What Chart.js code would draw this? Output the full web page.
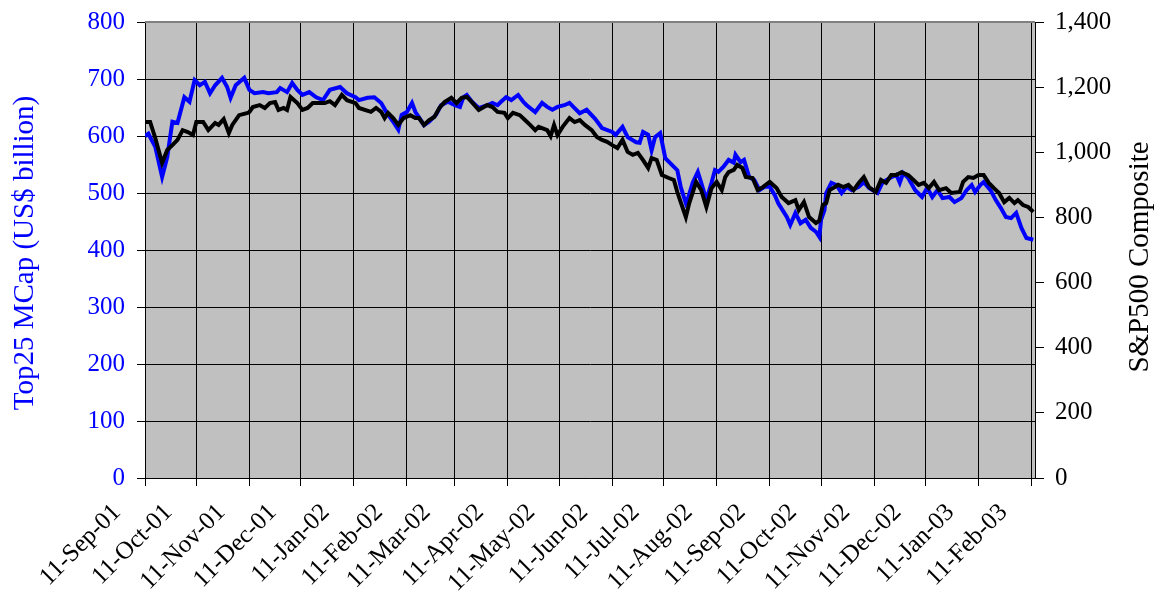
<!DOCTYPE html>
<html>
<head>
<meta charset="utf-8">
<script src="https://cdn.jsdelivr.net/npm/chart.js@4.4.1/dist/chart.umd.min.js"></script>
<style>
  html, body { margin: 0; padding: 0; background: #fff; }
  #wrap { width: 1165px; height: 600px; }
</style>
</head>
<body>
<div id="wrap"><canvas id="chart" width="1165" height="600"></canvas></div>
<script>
// Month tick labels (x axis is calendar days since 11-Sep-01)
const tickLabels = ['11-Sep-01', '11-Oct-01', '11-Nov-01', '11-Dec-01', '11-Jan-02', '11-Feb-02',
  '11-Mar-02', '11-Apr-02', '11-May-02', '11-Jun-02', '11-Jul-02', '11-Aug-02', '11-Sep-02',
  '11-Oct-02', '11-Nov-02', '11-Dec-02', '11-Jan-03', '11-Feb-03'];

// Top25 market cap (US$ billion), left axis
const mcapDays = [0, 2, 6, 10, 13, 16, 19, 23, 26, 29, 32, 35, 38, 41, 45, 48, 50, 53, 58, 61,
  64, 69, 72, 77, 79, 83, 86, 89, 92, 96, 100, 104, 108, 114, 118, 123, 125, 130, 134, 138,
  141, 145, 148, 150, 153, 156, 158, 160, 163, 166, 170, 173, 177, 181, 184, 186, 188, 191, 195, 200,
  203, 206, 208, 211, 214, 218, 221, 223, 228, 232, 235, 238, 241, 245, 248, 251, 254, 258, 263, 267,
  273, 275, 279, 282, 287, 289, 291, 294, 296, 298, 301, 304, 308, 311, 313, 316, 317, 320, 323, 325,
  328, 331, 333, 335, 338, 341, 344, 345, 348, 350, 353, 356, 359, 362, 365, 368, 370, 375, 377, 380,
  383, 386, 389, 392, 394, 395, 397, 398, 401, 404, 407, 410, 413, 417, 420, 423, 428, 431, 435, 439,
  441, 443, 446, 450, 454, 457, 460, 463, 466, 470, 473, 477, 480, 483, 485, 488, 490, 494, 497, 500,
  503, 506, 509, 512, 515, 519];
const mcapValues = [600, 604, 581, 528, 563, 625, 623, 668, 660, 698, 689, 695, 675, 689, 702, 686, 667, 689, 702, 681,
  675, 677, 675, 677, 684, 677, 693, 681, 672, 677, 668, 663, 681, 686, 675, 668, 663, 667, 668, 658,
  642, 625, 611, 637, 642, 658, 642, 633, 619, 625, 637, 654, 660, 654, 651, 668, 672, 660, 649, 654,
  658, 654, 660, 668, 663, 672, 660, 654, 642, 658, 651, 646, 651, 654, 658, 649, 640, 646, 630, 614,
  607, 602, 616, 598, 589, 588, 607, 602, 575, 598, 605, 561, 549, 540, 511, 482, 488, 518, 537, 518,
  488, 518, 540, 537, 546, 558, 553, 567, 554, 558, 528, 523, 505, 511, 511, 496, 482, 458, 444, 465,
  447, 453, 439, 432, 423, 453, 470, 500, 518, 514, 500, 511, 505, 511, 519, 509, 500, 519, 526, 532,
  518, 535, 526, 505, 493, 509, 493, 505, 491, 493, 484, 491, 505, 514, 502, 514, 519, 505, 488, 474,
  458, 456, 465, 439, 421, 418];

// S&P500 Composite, right axis
const spxDays = [0, 3, 6, 10, 13, 16, 19, 22, 25, 28, 30, 34, 37, 41, 43, 46, 49, 51, 55, 60,
  61, 63, 67, 70, 73, 76, 78, 81, 83, 85, 89, 92, 95, 98, 102, 105, 108, 111, 115, 118,
  123, 125, 132, 135, 138, 140, 142, 145, 148, 151, 155, 158, 160, 163, 166, 169, 172, 175, 179, 182,
  185, 188, 191, 195, 200, 203, 206, 210, 212, 215, 219, 222, 225, 228, 230, 235, 237, 239, 241, 244,
  248, 251, 254, 257, 261, 264, 267, 270, 273, 276, 279, 282, 285, 288, 291, 294, 296, 299, 302, 306,
  309, 311, 313, 316, 318, 322, 325, 328, 331, 334, 337, 339, 341, 344, 346, 349, 351, 355, 358, 361,
  365, 369, 372, 376, 380, 382, 385, 388, 392, 394, 396, 398, 400, 403, 405, 408, 411, 414, 417, 420,
  423, 427, 430, 433, 436, 439, 442, 446, 449, 452, 455, 458, 461, 464, 468, 471, 476, 478, 481, 484,
  487, 490, 493, 496, 499, 502, 505, 508, 510, 513, 516, 519];
const spxValues = [1093, 1093, 1044, 967, 1007, 1022, 1038, 1068, 1062, 1053, 1093, 1093, 1068, 1090, 1084, 1102, 1059, 1084, 1114, 1121,
  1124, 1139, 1145, 1136, 1151, 1154, 1130, 1136, 1130, 1170, 1151, 1130, 1136, 1151, 1151, 1151, 1157, 1145, 1176, 1160,
  1151, 1136, 1124, 1136, 1124, 1105, 1121, 1105, 1084, 1105, 1114, 1105, 1105, 1084, 1099, 1108, 1136, 1154, 1167, 1151,
  1167, 1170, 1154, 1130, 1145, 1139, 1124, 1121, 1105, 1121, 1114, 1099, 1084, 1068, 1078, 1068, 1050, 1084, 1053, 1078,
  1105, 1093, 1099, 1084, 1068, 1047, 1038, 1032, 1022, 1013, 1038, 1001, 992, 998, 976, 952, 982, 976, 930, 921,
  915, 878, 847, 801, 844, 909, 884, 832, 890, 909, 884, 924, 939, 946, 961, 952, 924, 921, 884, 893,
  909, 890, 863, 844, 853, 823, 847, 801, 783, 790, 838, 844, 884, 893, 900, 893, 900, 884, 906, 924,
  893, 878, 915, 906, 930, 930, 939, 930, 915, 900, 906, 890, 909, 884, 890, 875, 878, 909, 924, 921,
  930, 930, 906, 890, 875, 847, 860, 844, 853, 838, 832, 817];

const FONT = "'Liberation Serif', 'Times New Roman', serif";
const DAY = 86400000;
const start = Date.UTC(2001, 8, 11);
const monthIdx = { Jan: 0, Feb: 1, Mar: 2, Apr: 3, May: 4, Jun: 5, Jul: 6, Aug: 7, Sep: 8, Oct: 9, Nov: 10, Dec: 11 };

function labelToDay(lbl) {
  const [d, m, y] = lbl.split('-');
  return Math.round((Date.UTC(2000 + Number(y), monthIdx[m], Number(d)) - start) / DAY);
}
const tickDays = tickLabels.map(labelToDay);
const labelByDay = {};
tickDays.forEach((d, i) => { labelByDay[d] = tickLabels[i]; });

// Grey plot background, top frame line, and axis titles
const framePlugin = {
  id: 'frame',
  beforeDraw(chart) {
    const { ctx, chartArea: a } = chart;
    ctx.save();
    ctx.fillStyle = '#c0c0c0';
    ctx.fillRect(a.left, a.top, a.right - a.left, a.bottom - a.top);
    ctx.restore();
  },
  afterDraw(chart) {
    const { ctx, chartArea: a } = chart;
    ctx.save();
    ctx.strokeStyle = '#808080';
    ctx.lineWidth = 2;
    ctx.beginPath();
    ctx.moveTo(a.left, a.top);
    ctx.lineTo(a.right, a.top);
    ctx.stroke();

    ctx.font = '29px ' + FONT;
    ctx.textAlign = 'center';
    ctx.textBaseline = 'middle';
    ctx.fillStyle = '#0000ff';
    ctx.translate(25, 253);
    ctx.rotate(-Math.PI / 2);
    ctx.fillText('Top25 MCap (US$ billion)', 0, 0);
    ctx.restore();

    ctx.save();
    ctx.font = '29px ' + FONT;
    ctx.textAlign = 'center';
    ctx.textBaseline = 'middle';
    ctx.fillStyle = '#000';
    ctx.translate(1140, 257);
    ctx.rotate(-Math.PI / 2);
    ctx.fillText('S&P500 Composite', 0, 0);
    ctx.restore();
  }
};

const fitY = w => s => { s.width = w; s.paddingTop = 0; s.paddingBottom = 0; };

new Chart(document.getElementById('chart'), {
  type: 'line',
  data: {
    datasets: [
      {
        label: 'S&P500 Composite',
        data: spxDays.map((d, i) => ({ x: d, y: spxValues[i] })),
        yAxisID: 'y2',
        borderColor: '#000000',
        borderWidth: 4,
        pointRadius: 0,
        tension: 0,
        order: 0
      },
      {
        label: 'Top25 MCap',
        data: mcapDays.map((d, i) => ({ x: d, y: mcapValues[i] })),
        yAxisID: 'y',
        borderColor: '#0000ff',
        borderWidth: 4,
        pointRadius: 0,
        tension: 0,
        order: 1
      }
    ]
  },
  options: {
    responsive: false,
    animation: false,
    layout: { padding: { top: 22, left: 0, right: 0, bottom: 0 } },
    plugins: {
      legend: { display: false },
      tooltip: { enabled: false }
    },
    scales: {
      x: {
        type: 'linear',
        min: 0,
        max: 520,
        afterBuildTicks: axis => { axis.ticks = tickDays.map(v => ({ value: v })); },
        afterFit: s => { s.height = 122; },
        grid: { color: '#000', lineWidth: 1, tickLength: 8 },
        border: { color: '#000', width: 1 },
        ticks: {
          autoSkip: false,
          minRotation: 45,
          maxRotation: 45,
          labelOffset: -28,
          padding: 12,
          color: '#000',
          font: { family: FONT, size: 25 },
          callback: v => labelByDay[v] || ''
        }
      },
      y: {
        position: 'left',
        min: 0,
        max: 800,
        afterFit: fitY(145),
        grid: { color: '#000', lineWidth: 1, tickLength: 8 },
        border: { color: '#000', width: 1 },
        ticks: {
          stepSize: 100,
          padding: 12,
          color: '#0000ff',
          font: { family: FONT, size: 25 }
        }
      },
      y2: {
        position: 'right',
        min: 0,
        max: 1400,
        afterFit: fitY(130),
        grid: { drawOnChartArea: false, color: '#000', tickLength: 9 },
        border: { color: '#000', width: 1 },
        ticks: {
          stepSize: 200,
          padding: 11,
          color: '#000',
          font: { family: FONT, size: 25 },
          callback: v => v.toLocaleString('en-US')
        }
      }
    }
  },
  plugins: [framePlugin]
});
</script>
</body>
</html>
